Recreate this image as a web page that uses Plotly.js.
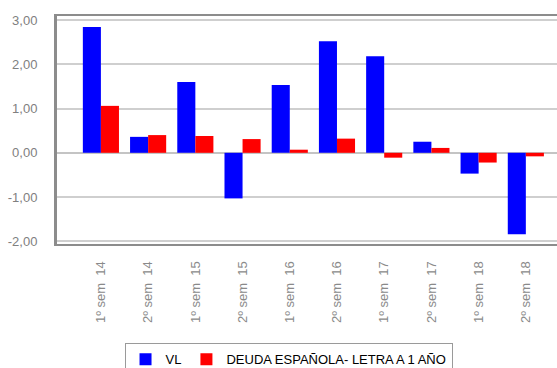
<!DOCTYPE html>
<html>
<head>
<meta charset="utf-8">
<script src="https://cdn.plot.ly/plotly-3.0.1.min.js"></script>
<style>
  html, body { margin: 0; padding: 0; background: #fff; }
  #chart { width: 557px; height: 368px; }
</style>
</head>
<body>
<div id="chart"></div>
<script>
// Semesters shown on the category axis
const periods = [
  "1º sem\u00a0\u00a014", "2º sem\u00a0\u00a014",
  "1º sem\u00a0\u00a015", "2º sem\u00a0\u00a015",
  "1º sem\u00a0\u00a016", "2º sem\u00a0\u00a016",
  "1º sem\u00a0\u00a017", "2º sem\u00a0\u00a017",
  "1º sem\u00a0\u00a018", "2º sem\u00a0\u00a018"
];

// Semester returns (%)
const vlValues    = [2.84, 0.36, 1.60, -1.03, 1.53, 2.52, 2.18, 0.25, -0.47, -1.84];
const letraValues = [1.06, 0.40, 0.38, 0.31, 0.07, 0.32, -0.11, 0.11, -0.22, -0.08];

const seriesNames = ["VL", "DEUDA ESPAÑOLA- LETRA A 1 AÑO"];
const yTicks = [-2, -1, 0, 1, 2, 3];
const yTickText = ["-2,00", "-1,00", "0,00", "1,00", "2,00", "3,00"];

const font = "Arial, 'Liberation Sans', sans-serif";
const idx = periods.map((_, i) => i);

const traces = [
  {
    type: "bar", name: seriesNames[0], x: idx, y: vlValues,
    marker: { color: "#0000ff", line: { width: 0 } }
  },
  {
    type: "bar", name: seriesNames[1], x: idx, y: letraValues,
    marker: { color: "#ff0000", line: { width: 0 } }
  }
];

const layout = {
  width: 557, height: 368,
  margin: { l: 57, r: 0, t: 16, b: 123.5, pad: 0, autoexpand: false },
  paper_bgcolor: "#ffffff", plot_bgcolor: "#ffffff",
  font: { family: font, size: 13, color: "#808080" },
  barmode: "group", bargap: 0.235, bargroupgap: 0,
  showlegend: true,
  legend: {
    orientation: "h",
    xref: "container", x: 0.518, xanchor: "center",
    yref: "container", y: 0.067, yanchor: "top",
    bordercolor: "#9a9a9a", borderwidth: 1, bgcolor: "#ffffff",
    font: { family: font, size: 13, color: "#000000" },
    itemclick: false, itemdoubleclick: false
  },
  xaxis: {
    type: "linear", range: [-0.93, 9.66],
    tickmode: "array", tickvals: idx, ticktext: periods,
    tickangle: -90, ticks: "", ticklabelstandoff: 10,
    tickfont: { family: font, size: 13, color: "#8a8a8a" },
    showgrid: false, zeroline: false,
    showline: true, mirror: true, linecolor: "#8c8c8c", linewidth: 2
  },
  yaxis: {
    range: [-2.06, 3.09],
    tickmode: "array", tickvals: yTicks, ticktext: yTickText,
    ticks: "", ticklabelstandoff: 14,
    tickfont: { family: font, size: 13, color: "#808080" },
    showgrid: true, gridcolor: "#cfcfcf", gridwidth: 2,
    zeroline: true, zerolinecolor: "#c4c4c4", zerolinewidth: 2,
    showline: true, mirror: false, linecolor: "#8c8c8c", linewidth: 3
  }
};

Plotly.newPlot("chart", traces, layout, { displayModeBar: false, staticPlot: true });
</script>
</body>
</html>
